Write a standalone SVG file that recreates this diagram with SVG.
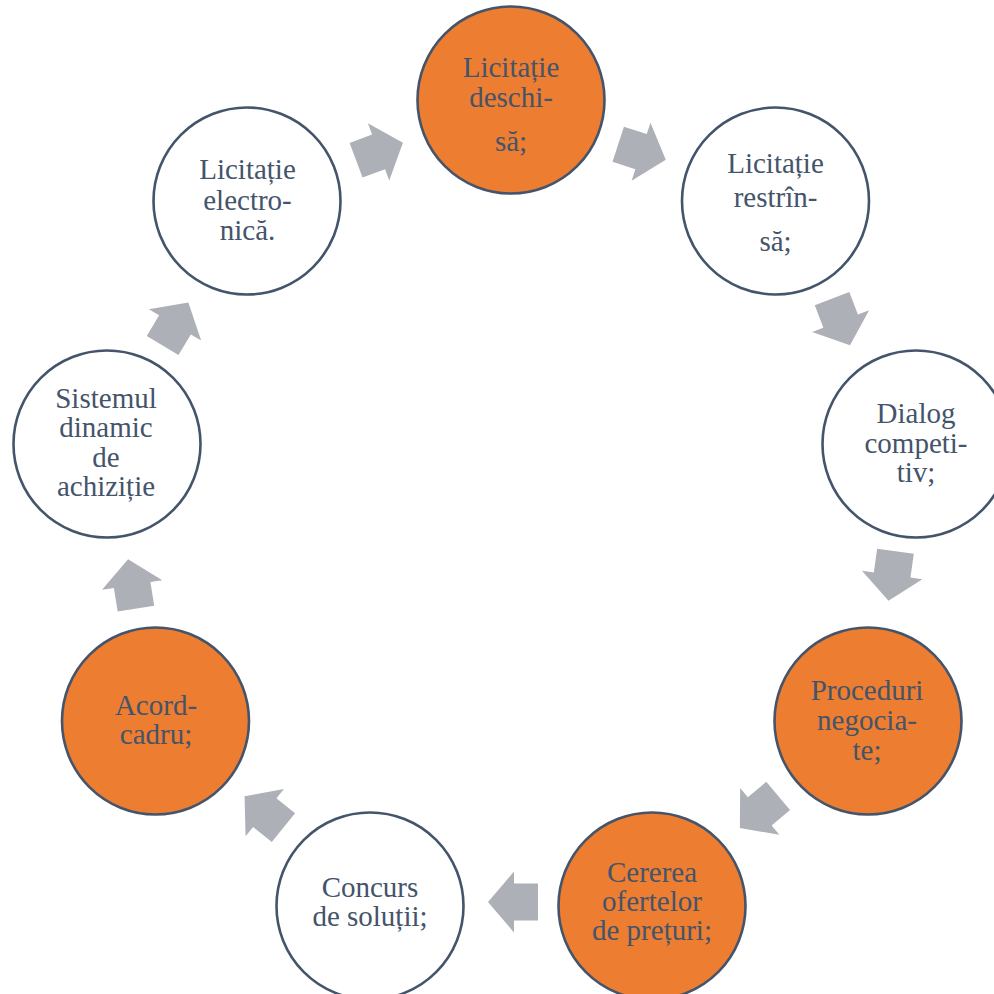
<svg xmlns="http://www.w3.org/2000/svg" width="994" height="994" viewBox="0 0 994 994">
<style>
.n{stroke:#44546A;stroke-width:2.6}
.w{fill:#FFFFFF}
.o{fill:#ED7D31}
.t{font-size:29px;fill:#44546A;text-anchor:middle}
.a{fill:#ADB0B6}
</style>
<defs>
<polygon id="arr" points="-25,-18.5 -1,-18.5 -1,-30.5 25,0 -1,30.5 -1,18.5 -25,18.5"/>
</defs>
<rect width="994" height="994" fill="#FFFFFF"/>
<g id="connectors" class="a">
<use href="#arr" transform="translate(379.5,151.5) rotate(-20.5)"/>
<use href="#arr" transform="translate(642,152) rotate(18)"/>
<use href="#arr" transform="translate(841,322) rotate(69)"/>
<use href="#arr" transform="translate(892,576) rotate(98)"/>
<use href="#arr" transform="translate(759,812) rotate(140)"/>
<use href="#arr" transform="translate(513,902) rotate(180)"/>
<use href="#arr" transform="translate(264,812) rotate(219)"/>
<use href="#arr" transform="translate(132,584) rotate(261)"/>
<use href="#arr" transform="translate(175.5,324) rotate(-59)"/>
</g>
<g id="nodes" font-family="'Liberation Serif', 'Times New Roman', serif">
<g id="n1">
<circle class="n o" cx="511" cy="100" r="93.5"/>
<text class="t"><tspan x="511" y="77">Licitație</tspan><tspan x="511" y="107">deschi-</tspan><tspan x="511" y="151">să;</tspan></text>
</g>
<g id="n2">
<circle class="n w" cx="775.5" cy="201" r="93.5"/>
<text class="t"><tspan x="775.5" y="173">Licitație</tspan><tspan x="775.5" y="207">restrîn-</tspan><tspan x="775.5" y="251">să;</tspan></text>
</g>
<g id="n3">
<circle class="n w" cx="916" cy="444" r="93.5"/>
<text class="t"><tspan x="916" y="423">Dialog</tspan><tspan x="916" y="453">competi-</tspan><tspan x="916" y="482">tiv;</tspan></text>
</g>
<g id="n4">
<circle class="n o" cx="868" cy="721" r="93.5"/>
<text class="t"><tspan x="867" y="700">Proceduri</tspan><tspan x="867" y="730">negocia-</tspan><tspan x="867" y="760">te;</tspan></text>
</g>
<g id="n5">
<circle class="n o" cx="652" cy="906" r="93.5"/>
<text class="t"><tspan x="652" y="882">Cererea</tspan><tspan x="652" y="911">ofertelor</tspan><tspan x="652" y="940">de prețuri;</tspan></text>
</g>
<g id="n6">
<circle class="n w" cx="370" cy="906" r="93.5"/>
<text class="t"><tspan x="370" y="897">Concurs</tspan><tspan x="370" y="926">de soluții;</tspan></text>
</g>
<g id="n7">
<circle class="n o" cx="155.5" cy="721" r="93.5"/>
<text class="t"><tspan x="156" y="715">Acord-</tspan><tspan x="156" y="744">cadru;</tspan></text>
</g>
<g id="n8">
<circle class="n w" cx="107" cy="444" r="93.5"/>
<text class="t"><tspan x="106" y="408">Sistemul</tspan><tspan x="106" y="437">dinamic</tspan><tspan x="106" y="467">de</tspan><tspan x="106" y="496">achiziție</tspan></text>
</g>
<g id="n9">
<circle class="n w" cx="247" cy="201" r="93.5"/>
<text class="t"><tspan x="247.5" y="179">Licitație</tspan><tspan x="247.5" y="210">electro-</tspan><tspan x="247.5" y="240">nică.</tspan></text>
</g>
</g>
</svg>
